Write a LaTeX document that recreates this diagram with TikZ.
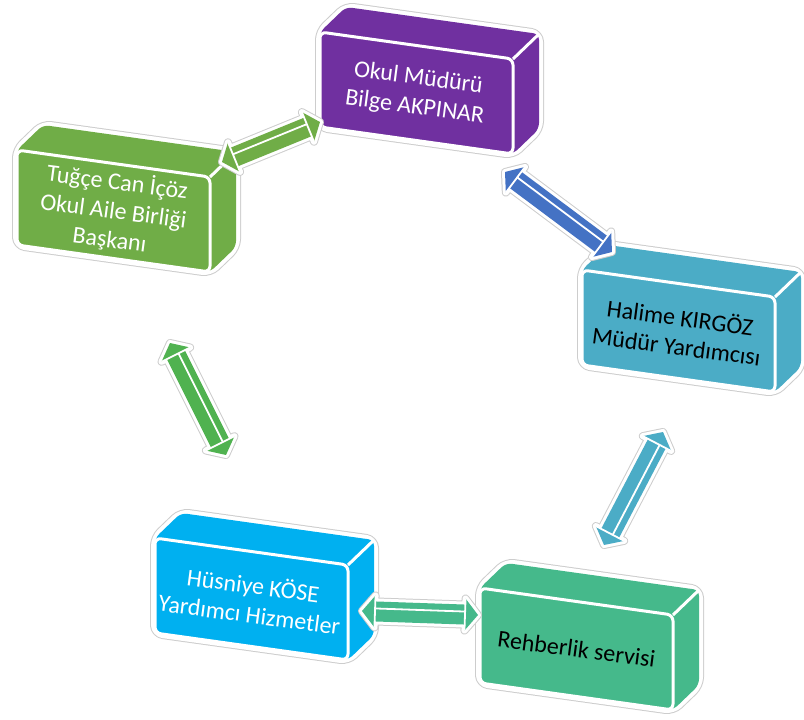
\documentclass[tikz,border=0pt]{standalone}
\usepackage{fontspec}
\setmainfont{Carlito}
\usetikzlibrary{calc}
\definecolor{cpurple}{RGB}{112,48,160}
\definecolor{cgreen}{RGB}{112,173,71}
\definecolor{cteal}{RGB}{75,172,198}
\definecolor{cblue}{RGB}{0,176,240}
\definecolor{csea}{RGB}{69,185,139}
\definecolor{aroyal}{RGB}{68,114,196}
\definecolor{agreen}{RGB}{80,178,80}
\definecolor{haloc}{RGB}{205,205,205}
\tikzset{
  boxtext/.style={align=center, font=\fontsize{24}{29}\selectfont, rotate=-7.5, inner sep=0pt},
  halo/.style={draw=haloc, line width=10pt, line join=round, rounded corners=8pt},
  haloin/.style={draw=white, fill=white, line width=8pt, line join=round, rounded corners=8pt},
  face/.style={draw=white, line width=3pt, line join=round, rounded corners=6pt},
  ahalo/.style={draw=haloc, line width=8pt, line join=round},
  ahaloin/.style={draw=white, fill=white, line width=6pt, line join=round},
  aline/.style={draw=white, line width=1.8pt},
}
% name, x, y, fill, text colour, text
\newcommand\cubebox[6]{%
  \begin{scope}[shift={(#2,#3)}]
    \path[halo] (0,95) -- (0,0) -- (26,-25) -- (219,2) -- (219,97) -- (193,122) -- cycle;
    \path[haloin] (0,95) -- (0,0) -- (26,-25) -- (219,2) -- (219,97) -- (193,122) -- cycle;
    \path[fill=#4, rounded corners=6pt] (0,95) -- (0,0) -- (26,-25) -- (219,2) -- (219,97) -- (193,122) -- cycle;
    \path[face, fill=#4] (0,0) -- (193,27) -- (193,122) -- (0,95) -- cycle;
    \draw[white, line width=3pt] (193,27) -- (219,2);
    \node[boxtext, text=#5] (#1) at (96.5,61) {#6};
  \end{scope}}
% from, to, colour
\newcommand\blockarrow[3]{%
  \path let \p1=(#1), \p2=(#2), \n1={atan2(\y2-\y1,\x2-\x1)}, \n2={veclen(\x2-\x1,\y2-\y1)} in
    \pgfextra{\xdef\arang{\n1}\xdef\arlen{\n2}};
  \begin{scope}[shift={(#1)}, rotate=\arang]
    \path[ahalo] (0,0) -- (13,16) -- (13,10) -- (\arlen-13,10) -- (\arlen-13,16) -- (\arlen,0)
      -- (\arlen-13,-16) -- (\arlen-13,-10) -- (13,-10) -- (13,-16) -- cycle;
    \path[ahaloin] (0,0) -- (13,16) -- (13,10) -- (\arlen-13,10) -- (\arlen-13,16) -- (\arlen,0)
      -- (\arlen-13,-16) -- (\arlen-13,-10) -- (13,-10) -- (13,-16) -- cycle;
    \path[fill=#3] (0,0) -- (13,16) -- (13,10) -- (\arlen-13,10) -- (\arlen-13,16) -- (\arlen,0)
      -- (\arlen-13,-16) -- (\arlen-13,-10) -- (13,-10) -- (13,-16) -- cycle;
    \draw[aline] (13,-3) -- (\arlen-13,-3);
    \draw[aline] (13,-16) -- (13,16);
    \draw[aline] (\arlen-13,-16) -- (\arlen-13,16);
  \end{scope}}
\begin{document}
\begin{tikzpicture}[x=1pt,y=-1pt]
  \useasboundingbox (0,0) rectangle (804,720);
  \cubebox{mudur}{320}{32}{cpurple}{white}{Okul Müdürü\\Bilge AKPINAR}
  \cubebox{aile}{17}{150}{cgreen}{white}{Tuğçe Can İçöz\\Okul Aile Birliği\\Başkanı}
  \cubebox{yard}{582}{270}{cteal}{black}{Halime KIRGÖZ\\Müdür Yardımcısı}
  \cubebox{hiz}{155}{538}{cblue}{white}{Hüsniye KÖSE\\Yardımcı Hizmetler}
  \cubebox{rehber}{480}{588}{csea}{black}{Rehberlik servisi}
  \coordinate (a1s) at (222,162);
  \coordinate (a1e) at (320,122);
  \coordinate (a2s) at (505,172);
  \coordinate (a2e) at (612,252);
  \coordinate (a3s) at (170,343);
  \coordinate (a3e) at (226,455);
  \coordinate (a4s) at (663,432);
  \coordinate (a4e) at (604,545);
  \coordinate (a5s) at (362,611);
  \coordinate (a5e) at (478,615);
  \blockarrow{a1s}{a1e}{cgreen}
  \blockarrow{a2s}{a2e}{aroyal}
  \blockarrow{a3s}{a3e}{agreen}
  \blockarrow{a4s}{a4e}{cteal}
  \blockarrow{a5s}{a5e}{csea}
\end{tikzpicture}
\end{document}
